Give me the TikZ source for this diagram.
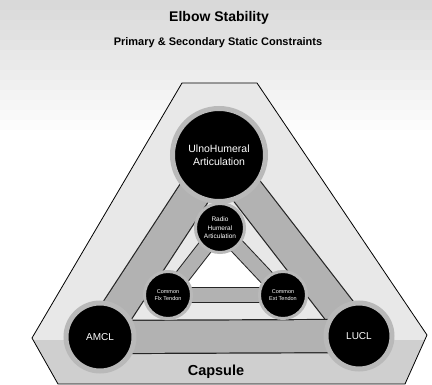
\documentclass[tikz,border=0pt]{standalone}
\usepackage{fontspec}
\setmainfont{Liberation Sans}
\pgfdeclarelayer{back}
\pgfdeclarelayer{mid}
\pgfsetlayers{back,mid,main}
\begin{document}
\begin{tikzpicture}[x=1pt,y=-1pt,
  joint/.style={circle, fill=black, draw=gray!55, line width=5pt, text=white, align=center, inner sep=0pt},
  smalljoint/.style={joint, line width=3pt},
  outerband/.style={draw=black!85, line width=1.2pt, double=gray!60, double distance=32pt},
  innerband/.style={draw=black!85, line width=1pt, double=gray!60, double distance=14pt},
  hexfill/.style={fill=gray!18},
  hexline/.style={draw=black, line width=0.8pt, line join=miter}
]
\useasboundingbox (0,0) rectangle (432,385);

% joints
\node[joint, minimum size=93pt, font=\fontsize{10.5}{13}\selectfont] (uh) at (219,155) {UlnoHumeral\\Articulation};
\node[smalljoint, minimum size=49pt, font=\fontsize{6.5}{8.5}\selectfont] (rh) at (220,228) {Radio\\Humeral\\Articulation};
\node[smalljoint, minimum size=47pt, font=\fontsize{5.5}{7.5}\selectfont] (cf) at (168,295) {Common\\Flx Tendon};
\node[smalljoint, minimum size=47pt, font=\fontsize{5.5}{7.5}\selectfont] (ce) at (283,295) {Common\\Ext Tendon};
\node[joint, minimum size=68pt, font=\fontsize{10}{12}\selectfont] (amcl) at (100,337) {AMCL};
\node[joint, minimum size=66pt, font=\fontsize{10}{12}\selectfont] (lucl) at (359,336) {LUCL};

% texts
\node[font=\bfseries\fontsize{14}{16}\selectfont] (title) at (219,18) {Elbow Stability};
\node[font=\bfseries\fontsize{11}{13}\selectfont] (sub) at (218,43) {Primary \& Secondary Static Constraints};
\node[font=\bfseries\fontsize{14.5}{16}\selectfont] (cap) at (216,372) {Capsule};

\begin{pgfonlayer}{back}
  \foreach \i in {0,...,13} {
    \pgfmathsetmacro\g{max(0,30-2.3*\i)}
    \fill[gray!\g] (0,10*\i) rectangle (432,10*\i+10.5);
  }
  \path[hexfill] (182,83) -- (257,83) -- (427,335) -- (405,384) -- (58,384) -- (32,338) -- cycle;
  \begin{scope}
    \clip (182,83) -- (257,83) -- (427,335) -- (405,384) -- (58,384) -- (32,338) -- cycle;
    \fill[gray!38] (0,340) rectangle (432,385);
  \end{scope}
  \path[hexline] (182,83) -- (257,83) -- (427,335) -- (405,384) -- (58,384) -- (32,338) -- cycle;
\end{pgfonlayer}

\begin{pgfonlayer}{mid}
  \fill[white] (rh.center) -- (cf.center) -- (ce.center) -- cycle;
  \draw[outerband] (uh.center) -- (amcl.center);
  \draw[outerband] (uh.center) -- (lucl.center);
  \draw[outerband] (amcl.center) -- (lucl.center);
  \draw[innerband] (rh.center) -- (cf.center);
  \draw[innerband] (rh.center) -- (ce.center);
  \draw[innerband] (cf.center) -- (ce.center);
\end{pgfonlayer}
\end{tikzpicture}
\end{document}
